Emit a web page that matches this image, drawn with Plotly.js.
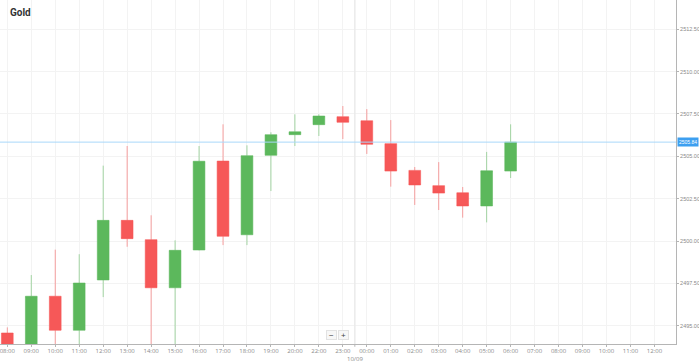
<!DOCTYPE html>
<html><head><meta charset="utf-8">
<script src="https://cdn.plot.ly/plotly-3.0.1.min.js"></script>
<style>html,body{margin:0;padding:0;background:#fff;}#chart{width:699px;height:362px;}</style>
</head><body><div id="chart"></div>
<script>
const hourLabels = ["08:00","09:00","10:00","11:00","12:00","13:00","14:00","15:00","16:00","17:00","18:00","19:00","20:00","22:00","23:00","00:00","01:00","02:00","03:00","04:00","05:00","06:00","07:00","08:00","09:00","10:00","11:00","12:00"];
const openVals  = [2494.57,2493.8,2496.74,2494.73,2497.70,2501.22,2500.08,2497.24,2499.47,2504.72,2500.37,2505.06,2506.28,2506.87,2507.34,2507.10,2505.75,2504.17,2503.27,2502.85,2502.07,2504.13];
const highVals  = [2494.90,2497.99,2499.49,2499.22,2504.45,2505.61,2501.52,2500.04,2505.61,2506.89,2505.65,2506.42,2507.48,2507.48,2507.97,2507.79,2507.14,2504.37,2504.66,2503.19,2505.26,2506.89];
const lowVals   = [2493.50,2493.50,2493.50,2493.50,2496.69,2499.66,2493.50,2493.50,2499.45,2499.76,2499.76,2502.95,2505.61,2506.20,2506.02,2505.14,2503.21,2502.13,2501.83,2501.38,2501.10,2503.72];
const closeVals = [2493.70,2496.74,2494.73,2497.52,2501.22,2500.14,2497.24,2499.45,2504.71,2500.28,2505.04,2506.28,2506.45,2507.38,2507.01,2505.71,2504.13,2503.31,2502.83,2502.07,2504.15,2505.84];
const lastPrice = 2505.84;
const yTicks = [2495.0,2497.5,2500.0,2502.5,2505.0,2507.5,2510.0,2512.5];
const dayLabel = "10/09";

const idx = hourLabels.map((_, i) => i);
const candleX = openVals.map((_, i) => i);

const trace = {
  type: 'candlestick',
  x: candleX, open: openVals, high: highVals, low: lowVals, close: closeVals,
  increasing: {line: {color: 'rgba(92,184,92,0.55)', width: 1}, fillcolor: '#5cb85c'},
  decreasing: {line: {color: 'rgba(245,86,86,0.55)', width: 1}, fillcolor: '#f65858'},
  whiskerwidth: 0,
  hoverinfo: 'none'
};

const layout = {
  width: 699, height: 362,
  margin: {l: 0, r: 23, t: 0, b: 18},
  paper_bgcolor: '#fff', plot_bgcolor: '#fff',
  showlegend: false,
  dragmode: false,
  xaxis: {
    range: [-0.305, 27.9], tickvals: idx, ticktext: hourLabels,
    showgrid: true, gridcolor: '#f3f3f3', gridwidth: 1,
    zeroline: false, showline: true, linecolor: '#b5b5b5', linewidth: 1,
    ticks: 'outside', ticklen: 2, tickcolor: '#b5b5b5',
    ticklabeloverflow: 'allow', ticklabelstandoff: -1,
    tickfont: {family: 'Open Sans, Arial', size: 6, color: '#8a8a8a'},
    rangeslider: {visible: false}, fixedrange: true
  },
  yaxis: {
    side: 'right', range: [2493.92, 2514.23], tickvals: yTicks,
    ticktext: yTicks.map(v => v.toFixed(2)),
    showgrid: true, gridcolor: '#f3f3f3', gridwidth: 1,
    zeroline: false, showline: true, linecolor: '#b5b5b5', linewidth: 1,
    ticks: 'outside', ticklen: 2, tickcolor: '#b5b5b5',
    ticklabeloverflow: 'allow', ticklabelstandoff: 0,
    tickfont: {family: 'Liberation Sans, Arial', size: 5.5, color: '#8a8a8a'},
    fixedrange: true
  },
  shapes: [
    {type: 'line', xref: 'x', yref: 'paper', x0: 14.5, x1: 14.5, y0: 0, y1: 1, line: {color: '#ebebeb', width: 1.5}},
    {type: 'line', xref: 'paper', yref: 'y', x0: 0, x1: 1, y0: lastPrice, y1: lastPrice, line: {color: '#a9d8fa', width: 1}},
    {type: 'line', xref: 'x', yref: 'paper', x0: 14.5, x1: 14.5, y0: 0, y1: -0.008, line: {color: '#b5b5b5', width: 1}}
  ],
  annotations: [
    {xref: 'paper', yref: 'paper', x: 0.012, y: 0.985, xanchor: 'left', yanchor: 'top', showarrow: false,
     text: '<b>Gold</b>', font: {family: 'Roboto, Arial', size: 10, color: '#333'}},
    {xref: 'paper', yref: 'y', x: 1.0015, y: lastPrice, xanchor: 'left', yanchor: 'middle', showarrow: false,
     text: lastPrice.toFixed(2), font: {family: 'Liberation Sans, Arial', size: 5, color: '#fff'},
     bgcolor: '#3d9ff0', borderpad: 1},
    {xref: 'x', yref: 'paper', x: 14.5, y: -0.027, xanchor: 'center', yanchor: 'top', showarrow: false,
     text: dayLabel, font: {family: 'Open Sans, Arial', size: 6, color: '#8a8a8a'}},
    {xref: 'paper', yref: 'paper', x: 0.4905, y: 0.027, xanchor: 'center', yanchor: 'middle', showarrow: false,
     text: '−', font: {family: 'Arial', size: 8, color: '#444'}, bgcolor: '#f7f7f7', bordercolor: '#e2e2e2', borderwidth: 1, borderpad: 0, width: 9, height: 8},
    {xref: 'paper', yref: 'paper', x: 0.508, y: 0.027, xanchor: 'center', yanchor: 'middle', showarrow: false,
     text: '+', font: {family: 'Arial', size: 8, color: '#444'}, bgcolor: '#f7f7f7', bordercolor: '#e2e2e2', borderwidth: 1, borderpad: 0, width: 9, height: 8}
  ]
};

Plotly.newPlot('chart', [trace], layout, {displayModeBar: false, staticPlot: true});
</script></body></html>
